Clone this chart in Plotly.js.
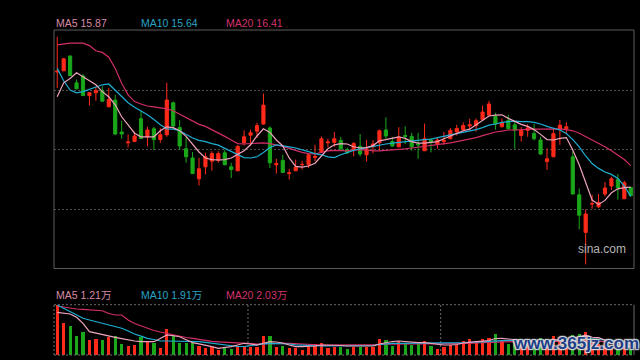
<!DOCTYPE html>
<html>
<head>
<meta charset="utf-8">
<script src="https://cdn.plot.ly/plotly-3.0.1.min.js"></script>
<style>html,body{margin:0;padding:0;background:#000;}#chart{width:640px;height:360px;}</style>
</head>
<body>
<div id="chart"></div>
<script>
const open = [18.75,18.78,19.15,18.48,18.65,18.16,18.23,18.28,17.88,18.05,
17.25,16.98,17.01,17.58,17.13,17.33,17.06,17.18,17.98,17.36,
16.83,16.60,16.08,16.38,16.52,16.54,16.73,16.38,16.28,16.98,
17.17,17.27,17.45,17.35,16.43,16.54,16.21,16.28,16.43,16.43,
16.61,16.75,16.98,16.99,17.04,16.81,16.81,16.89,16.68,16.88,
16.98,17.30,17.01,16.88,17.16,17.14,16.95,16.78,17.05,16.95,
17.01,17.08,17.25,17.31,17.40,17.41,17.56,17.67,17.64,17.38,
17.54,17.43,17.16,17.29,17.21,17.05,16.51,16.63,17.31,17.33,
16.63,15.68,14.74,15.45,15.38,15.70,15.90,16.06,15.58,15.86];
const close = [18.77,19.08,18.66,18.33,18.16,18.23,18.29,18.02,18.06,17.20,
17.20,17.00,17.15,17.09,17.30,17.06,17.18,18.05,17.40,16.90,
16.63,16.21,16.33,16.63,16.71,16.71,16.43,16.31,16.89,17.13,
17.23,17.41,17.92,16.48,16.46,16.24,16.23,16.37,16.44,16.68,
16.64,17.08,17.00,17.08,16.83,16.73,16.96,16.70,16.83,16.95,
17.28,17.15,16.90,17.12,17.14,16.88,16.93,17.08,17.00,17.05,
17.04,17.29,17.34,17.41,17.43,17.53,17.75,17.95,17.45,17.48,
17.33,17.30,17.29,17.35,17.08,16.70,16.58,17.21,17.42,17.38,
15.70,15.17,15.20,15.46,15.49,15.85,16.08,15.85,15.98,15.66];
const high = [19.63,19.10,19.16,18.56,18.70,18.25,18.37,18.39,18.35,18.18,
17.53,17.19,17.26,17.78,17.38,17.38,17.34,18.48,18.01,17.55,
17.13,16.75,16.60,16.73,16.77,16.77,16.80,16.48,16.92,17.29,
17.31,17.48,18.21,17.39,16.58,16.68,16.33,16.56,16.53,16.72,
16.93,17.14,17.08,17.25,17.13,16.86,17.00,17.20,17.05,17.05,
17.31,17.62,17.13,17.37,17.39,17.23,17.23,17.46,17.09,17.11,
17.25,17.35,17.43,17.49,17.58,17.59,17.91,18.03,17.73,17.59,
17.68,17.50,17.37,17.44,17.45,17.13,16.84,17.35,17.55,17.49,
16.77,15.84,15.31,15.68,15.70,16.00,16.13,16.20,16.03,15.88];
const low = [18.35,18.77,18.65,18.32,18.15,17.91,18.03,18.01,17.87,17.17,
17.08,16.86,17.00,17.08,16.89,16.80,16.98,17.13,17.33,16.80,
16.48,16.20,15.91,16.19,16.28,16.48,16.42,16.10,16.27,16.91,
16.90,17.10,17.43,16.35,16.21,16.22,16.06,16.28,16.31,16.35,
16.52,16.75,16.87,16.88,16.78,16.70,16.64,16.64,16.51,16.72,
16.78,17.06,16.88,16.87,16.95,16.78,16.58,16.78,16.74,16.83,
16.93,17.07,17.16,17.26,17.29,17.26,17.56,17.67,17.31,17.37,
17.31,16.83,17.01,17.13,17.04,16.68,16.30,16.63,16.93,17.20,
15.69,14.82,13.94,15.33,15.35,15.64,15.80,15.56,15.58,15.64];
const ma5 = [18.13,18.48,18.59,18.73,18.63,18.53,18.43,18.26,18.13,17.93,
17.63,17.43,17.22,17.13,17.13,17.13,17.28,17.38,17.36,17.28,
17.14,16.93,16.75,16.60,16.56,16.55,16.56,16.60,16.69,16.78,
16.93,17.15,17.33,17.24,17.05,16.90,16.60,16.39,16.37,16.40,
16.47,16.65,16.83,16.93,16.96,16.95,16.88,16.85,16.86,16.91,
17.03,17.06,17.09,17.13,17.09,17.01,16.97,16.97,16.99,17.01,
17.08,17.15,17.23,17.28,17.32,17.43,17.55,17.65,17.67,17.68,
17.59,17.51,17.44,17.39,17.31,17.19,17.06,17.05,17.09,17.11,
16.80,16.43,15.98,15.55,15.44,15.54,15.73,15.83,15.86,15.87];
const ma10 = [18.84,18.53,18.30,18.23,18.26,18.32,18.38,18.43,18.45,18.30,
18.13,17.98,17.87,17.78,17.68,17.56,17.43,17.33,17.32,17.28,
17.19,17.10,17.04,17.01,16.96,16.92,16.84,16.76,16.69,16.61,
16.60,16.63,16.74,16.86,16.93,16.91,16.88,16.85,16.81,16.76,
16.71,16.68,16.63,16.61,16.68,16.74,16.79,16.83,16.86,16.90,
16.93,16.95,16.97,16.99,17.01,17.03,17.05,17.06,17.07,17.11,
17.14,17.18,17.21,17.24,17.28,17.31,17.36,17.42,17.45,17.49,
17.51,17.52,17.51,17.51,17.49,17.45,17.39,17.34,17.30,17.21,
17.06,16.88,16.65,16.46,16.34,16.25,16.19,16.09,15.90,15.64];
const ma20 = [19.43,19.45,19.47,19.47,19.47,19.41,19.28,19.24,19.12,18.84,
18.47,18.18,18.01,17.95,17.90,17.88,17.85,17.83,17.78,17.70,
17.61,17.53,17.44,17.39,17.31,17.24,17.14,17.05,16.96,16.95,
16.96,16.97,16.98,16.96,16.93,16.89,16.84,16.79,16.74,16.71,
16.70,16.74,16.78,16.79,16.79,16.78,16.80,16.81,16.80,16.78,
16.78,16.79,16.80,16.82,16.83,16.85,16.87,16.89,16.91,16.93,
16.95,16.98,17.01,17.04,17.08,17.11,17.16,17.21,17.25,17.27,
17.30,17.30,17.31,17.31,17.32,17.32,17.32,17.32,17.33,17.31,
17.28,17.22,17.14,17.05,16.96,16.88,16.78,16.68,16.56,16.41];
// volume in 万
const vol = [7.42,4.78,4.37,2.88,3.43,2.28,2.39,2.28,2.64,2.88,
1.69,1.39,1.54,2.69,1.94,1.79,1.04,3.88,3.03,1.79,
1.79,1.79,1.39,1.04,1.19,0.79,1.04,0.90,1.30,1.30,
1.15,1.15,2.88,2.88,1.19,1.39,1.04,1.04,0.79,1.15,
1.64,1.79,1.04,1.19,1.19,0.90,1.19,1.15,1.15,1.15,
2.39,2.19,1.39,2.04,1.69,1.54,1.64,2.04,1.30,0.90,
1.19,1.45,1.54,2.04,2.39,1.90,2.39,2.54,3.13,2.04,
1.64,2.09,2.30,1.90,2.00,2.60,1.80,2.90,2.40,1.90,
3.00,3.20,3.40,1.80,1.65,1.50,1.30,1.20,1.15,0.90];
const volMa5 = [6.37,6.27,6.12,5.63,4.73,3.48,3.25,2.99,2.81,2.64,
2.45,2.24,2.09,1.99,1.99,1.99,2.46,2.99,2.87,2.73,
2.28,1.84,1.67,1.49,1.24,1.00,1.12,1.24,1.49,1.75,
1.64,1.49,1.75,1.99,1.94,1.79,1.49,1.24,1.24,1.24,
1.34,1.49,1.49,1.42,1.42,1.34,1.34,1.34,1.34,1.34,
1.64,1.87,2.01,2.09,2.01,1.87,1.84,1.84,1.72,1.57,
1.49,1.49,1.57,1.79,1.94,1.99,2.06,2.16,2.46,2.49,
2.39,2.31,2.20,2.00,2.00,2.15,2.10,2.25,2.30,2.20,
2.50,2.70,2.95,2.65,2.60,2.25,1.85,1.50,1.35,1.21];
const volMa10 = [7.46,6.94,6.46,5.97,5.48,5.22,4.97,4.73,4.48,4.24,
3.99,3.58,3.13,2.81,2.49,2.31,2.09,2.09,2.09,2.09,
2.09,2.04,1.99,1.87,1.75,1.64,1.54,1.42,1.27,1.27,
1.42,1.57,1.67,1.75,1.75,1.75,1.64,1.52,1.45,1.42,
1.39,1.34,1.34,1.34,1.34,1.42,1.42,1.42,1.42,1.42,
1.57,1.67,1.75,1.75,1.75,1.75,1.75,1.75,1.75,1.79,
1.79,1.79,1.79,1.84,1.90,1.90,1.97,2.04,2.13,2.16,
2.19,2.19,2.20,2.20,2.15,2.20,2.15,2.20,2.25,2.20,
2.30,2.40,2.50,2.40,2.35,2.30,2.20,2.10,2.00,1.91];
const volMa20 = [7.31,7.16,6.97,6.87,6.82,6.76,6.72,6.61,6.19,5.97,
5.97,5.22,4.70,4.33,3.96,3.66,3.43,3.21,2.99,2.79,
2.61,2.49,2.31,2.16,2.04,1.97,1.90,1.84,1.76,1.72,
1.67,1.64,1.67,1.72,1.75,1.75,1.75,1.69,1.61,1.55,
1.49,1.49,1.49,1.49,1.49,1.49,1.49,1.49,1.49,1.52,
1.57,1.61,1.64,1.64,1.64,1.64,1.64,1.64,1.64,1.67,
1.67,1.67,1.67,1.72,1.75,1.79,1.84,1.87,1.94,1.97,
2.01,2.01,2.02,2.02,2.03,2.03,2.03,2.04,2.04,2.05,
2.07,2.10,2.12,2.10,2.08,2.07,2.06,2.05,2.04,2.03];
const priceLegend = ["MA5 15.87", "MA10 15.64", "MA20 16.41"];
const volLegend = ["MA5 1.21万", "MA10 1.91万", "MA20 2.03万"];
const monthBreaks = [29.6, 59.5];

const RED = '#ff2a1a', GREEN = '#1aa81a';
const C5 = '#eea3bd', C10 = '#1eaed2', C20 = '#d22e66';
const T5 = '#d98aa5', T10 = '#2aa3c4', T20 = '#d2336c';
const idx = close.map((_, i) => i);
const volColors = close.map((c, i) => c >= open[i] ? RED : GREEN);

const traces = [
  {type:'candlestick', x:idx, open:open, high:high, low:low, close:close, xaxis:'x', yaxis:'y',
   increasing:{line:{color:RED, width:1}, fillcolor:RED},
   decreasing:{line:{color:GREEN, width:1}, fillcolor:GREEN},
   whiskerwidth:0, hoverinfo:'skip'},
  {type:'scatter', mode:'lines', x:idx, y:ma20, line:{color:C20, width:1.2}, xaxis:'x', yaxis:'y', hoverinfo:'skip'},
  {type:'scatter', mode:'lines', x:idx, y:ma10, line:{color:C10, width:1.2}, xaxis:'x', yaxis:'y', hoverinfo:'skip'},
  {type:'scatter', mode:'lines', x:idx, y:ma5, line:{color:C5, width:1.2}, xaxis:'x', yaxis:'y', hoverinfo:'skip'},
  {type:'bar', x:idx, y:vol, marker:{color:volColors, line:{width:0}}, width:0.5, xaxis:'x2', yaxis:'y2', hoverinfo:'skip'},
  {type:'scatter', mode:'lines', x:idx, y:volMa20, line:{color:C20, width:1.2}, xaxis:'x2', yaxis:'y2', hoverinfo:'skip'},
  {type:'scatter', mode:'lines', x:idx, y:volMa10, line:{color:C10, width:1.2}, xaxis:'x2', yaxis:'y2', hoverinfo:'skip'},
  {type:'scatter', mode:'lines', x:idx, y:volMa5, line:{color:C5, width:1.2}, xaxis:'x2', yaxis:'y2', hoverinfo:'skip'}
];

const PB = 0.2662, VT = 0.1548;
const dotted = {color:'#6a6a6a', width:1, dash:'2px,2px'};
const shapes = [
  {type:'rect', xref:'paper', yref:'paper', x0:0, x1:1, y0:PB, y1:1, line:{color:'#5c5c5c', width:1}},
  {type:'line', xref:'paper', yref:'paper', x0:0, x1:1, y0:VT, y1:VT, line:dotted},
  {type:'line', xref:'paper', yref:'paper', x0:0, x1:1, y0:0, y1:0, line:dotted},
  {type:'line', xref:'paper', yref:'paper', x0:0, x1:0, y0:0, y1:VT, line:dotted},
  {type:'line', xref:'paper', yref:'paper', x0:1, x1:1, y0:0, y1:VT, line:{color:'#6a6a6a', width:1}}
];
monthBreaks.forEach(b => shapes.push({type:'line', xref:'x2', yref:'paper', x0:b, x1:b, y0:0, y1:VT, line:dotted, layer:'below'}));

const lf = 'Liberation Sans, Arial, Noto Sans CJK SC, sans-serif';
const legX = [0, 0.1466, 0.2931];
const annotations = [];
[T5, T10, T20].forEach((c, k) => {
  annotations.push({xref:'paper', yref:'paper', x:legX[k], y:1.02, xanchor:'left', yanchor:'middle', showarrow:false,
    text:priceLegend[k], font:{family:lf, size:10.5, color:c}});
  annotations.push({xref:'paper', yref:'paper', x:legX[k], y:0.1846, xanchor:'left', yanchor:'middle', showarrow:false,
    text:volLegend[k], font:{family:lf, size:10.5, color:c}});
});
annotations.push({xref:'paper', yref:'paper', x:0.9448, y:0.3262, xanchor:'center', yanchor:'middle', showarrow:false,
  text:'sina.com', font:{family:lf, size:12, color:'#b4b4b4'}});
annotations.push({xref:'paper', yref:'paper', x:0.9, y:0.034, xanchor:'center', yanchor:'middle', showarrow:false,
  text:'www.365jz.com', font:{family:lf, size:17, color:'#1d3d86', weight:700,
  shadow:'1px 1px 1px #dcdcdc, -1px -1px 1px #dcdcdc, 1px -1px 1px #dcdcdc, -1px 1px 1px #dcdcdc, 0 0 3px #bbbbbb'}});

const axBase = {showgrid:false, zeroline:false, showticklabels:false, ticks:'', showline:false, fixedrange:true};
const layout = {
  width:640, height:360, paper_bgcolor:'#000', plot_bgcolor:'#000',
  margin:{l:54, r:6, t:30, b:5}, showlegend:false, bargap:0,
  xaxis:Object.assign({}, axBase, {domain:[0,1], range:[-0.5,89.5], anchor:'y', rangeslider:{visible:false}}),
  yaxis:Object.assign({}, axBase, {domain:[PB,1], range:[13.8375,19.8], anchor:'x',
     showgrid:true, tickvals:[15.3,16.8,18.3], gridcolor:'#4f4f4f', griddash:'2px,2px', gridwidth:1}),
  xaxis2:Object.assign({}, axBase, {domain:[0,1], range:[-0.5,89.5], anchor:'y2', rangeslider:{visible:false}}),
  yaxis2:Object.assign({}, axBase, {domain:[0,VT], range:[0,7.51], anchor:'x2'}),
  shapes:shapes, annotations:annotations
};
Plotly.newPlot('chart', traces, layout, {staticPlot:true, displayModeBar:false});
</script>
</body>
</html>
